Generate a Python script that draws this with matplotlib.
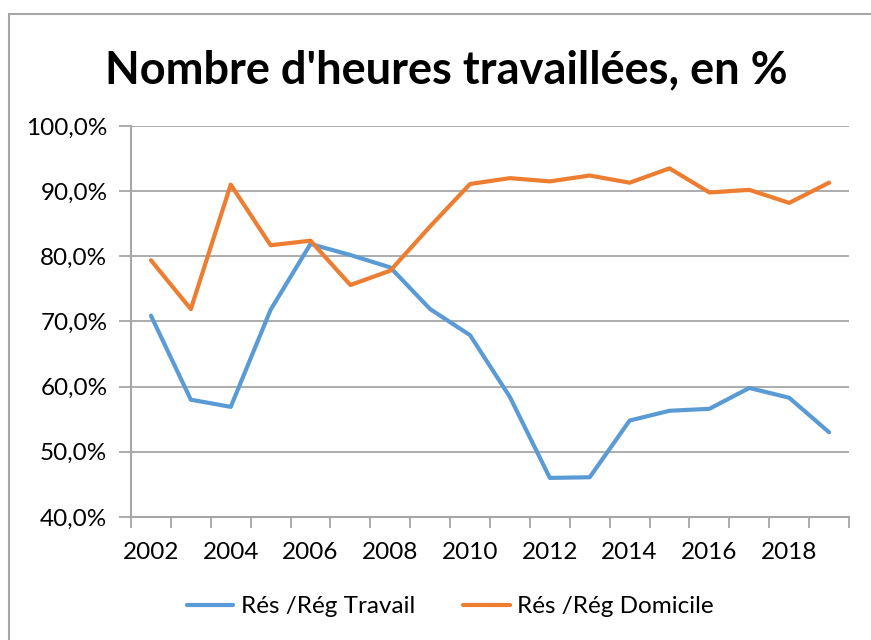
import matplotlib.pyplot as plt
import matplotlib.patches as patches
from matplotlib.ticker import FuncFormatter
import numpy as np

###DATA###
years = [2002, 2003, 2004, 2005, 2006, 2007, 2008, 2009, 2010,
         2011, 2012, 2013, 2014, 2015, 2016, 2017, 2018, 2019]
travail = [70.9, 58.0, 56.9, 71.8, 81.9, 80.2, 78.3, 71.9, 67.9,
           58.4, 46.0, 46.1, 54.8, 56.3, 56.6, 59.8, 58.3, 53.0]
domicile = [79.4, 71.9, 91.0, 81.7, 82.4, 75.6, 77.8, 84.6, 91.1,
            92.0, 91.5, 92.4, 91.3, 93.5, 89.8, 90.2, 88.2, 91.3]
labels = ['Rés /Rég Travail', 'Rés /Rég Domicile']
title = "Nombre d'heures travaillées, en %"

###STYLE###
plt.rcParams['font.family'] = ['Lato', 'DejaVu Sans']
grey = '#A6A6A6'
blue = '#5B9BD5'
orange = '#ED7D31'

###PLOT###
fig = plt.figure(figsize=(8.71, 6.40), dpi=100)
ax = fig.add_axes([131/871, 1-517/640, (849-131)/871, (517-126)/640])

x = np.arange(len(years))
ax.plot(x, travail, color=blue, lw=3, label=labels[0], solid_capstyle='round')
ax.plot(x, domicile, color=orange, lw=3, label=labels[1], solid_capstyle='round')

ax.set_xlim(-0.5, len(years)-0.5)
ax.set_ylim(40, 100)
ax.set_yticks(np.arange(40, 101, 10))
ax.yaxis.set_major_formatter(FuncFormatter(lambda v, p: f'{v:.1f}%'.replace('.', ',')))
ax.grid(axis='y', color=grey, lw=1.3)
ax.set_axisbelow(True)

# category axis: ticks between categories, labels every other year
ax.set_xticks(x[::2])
ax.set_xticklabels([str(y) for y in years[::2]])
ax.set_xticks(np.arange(-0.5, len(years)), minor=True)
ax.tick_params(axis='x', which='major', length=0, pad=18, labelsize=17.5)
ax.tick_params(axis='x', which='minor', length=8, width=1.3, color=grey)
ax.tick_params(axis='y', length=9, width=1.3, color=grey, pad=8, labelsize=17.5)

for s in ['top', 'right']:
    ax.spines[s].set_visible(False)
for s in ['left', 'bottom']:
    ax.spines[s].set_color(grey)
    ax.spines[s].set_linewidth(1.5)

fig.text(0.512, 0.89, title, ha='center', va='center', fontsize=32.5, fontweight='bold')

fig.legend(loc='center', bbox_to_anchor=(0.517, 0.052), ncol=2, frameon=False,
           fontsize=17.5, handlelength=1.9, columnspacing=2.0, handletextpad=0.3)

# chart border
fig.add_artist(patches.Rectangle((9/871, -0.1), 1.2, 1.1-14/640, transform=fig.transFigure,
                                 fill=False, edgecolor=grey, lw=1.5))

fig.savefig('out.png', dpi=100)
